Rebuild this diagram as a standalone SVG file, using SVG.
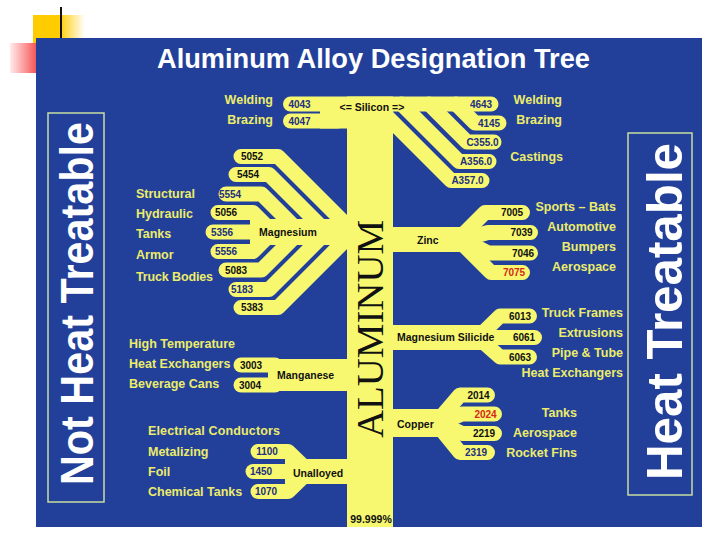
<svg xmlns="http://www.w3.org/2000/svg" width="720" height="540" viewBox="0 0 720 540">
<defs>
<linearGradient id="gy" x1="0" y1="0" x2="1" y2="0"><stop offset="0" stop-color="#ffcc00"/><stop offset="0.5" stop-color="#ffcc00"/><stop offset="1" stop-color="#ffcc00" stop-opacity="0"/></linearGradient>
<linearGradient id="gr" x1="0" y1="0" x2="1" y2="0"><stop offset="0" stop-color="#ff4040" stop-opacity="0.1"/><stop offset="1" stop-color="#f04040"/></linearGradient>
</defs>
<style>
.f{fill:none;stroke:#f8f870;stroke-width:15;stroke-linecap:round;stroke-linejoin:round}
.b{fill:#f8f870}
.l{font-family:"Liberation Sans",Arial,sans-serif;font-weight:bold;font-size:12.5px;fill:#ecec6a}
.le{font-family:"Liberation Sans",Arial,sans-serif;font-weight:bold;font-size:12.5px;fill:#ecec6a;text-anchor:end}
.n{font-family:"Liberation Sans",Arial,sans-serif;font-weight:bold;font-size:10px;fill:#111;text-anchor:middle}
.nb{fill:#22307f}
.nr{fill:#d4281a}
.g{font-family:"Liberation Sans",Arial,sans-serif;font-weight:bold;font-size:10.5px;fill:#111}
.big{font-family:"Liberation Sans",Arial,sans-serif;font-weight:bold;fill:#ffffff}
.box{fill:none;stroke:#c8dca0;stroke-width:1.5}
</style>
<rect width="720" height="540" fill="#ffffff"/>
<g id="decor">
<rect x="33" y="15" width="52" height="28" fill="url(#gy)"/>
<rect x="10" y="43" width="30" height="30" fill="url(#gr)"/>
<line x1="61" y1="7" x2="61" y2="40" stroke="#111" stroke-width="2"/>
</g>
<rect id="panel" x="36" y="38" width="666" height="489" fill="#22409a"/>
<text class="big" x="157" y="68" font-size="28" textLength="433" lengthAdjust="spacingAndGlyphs">Aluminum Alloy Designation Tree</text>
<g id="not-heat-treatable">
<rect class="box" x="48" y="113" width="56" height="389"/>
<text class="big" font-size="46" transform="translate(93,485) rotate(-90)" textLength="363" lengthAdjust="spacingAndGlyphs">Not Heat Treatable</text>
</g>
<g id="heat-treatable">
<rect class="box" x="628" y="133" width="64" height="362"/>
<text class="big" font-size="50" transform="translate(682,480) rotate(-90)" textLength="337" lengthAdjust="spacingAndGlyphs">Heat Treatable</text>
</g>
<g id="connectors">
<rect class="b" x="347" y="96.5" width="46" height="430.5"/>
<rect class="b" x="320" y="104" width="30" height="24.5"/>
<rect class="b" x="250" y="219" width="100" height="26"/>
<rect class="b" x="390" y="227" width="78" height="25"/>
<rect class="b" x="390" y="325" width="98" height="25"/>
<rect class="b" x="390" y="409" width="55" height="28"/>
<rect class="b" x="268" y="359" width="82" height="32"/>
<rect class="b" x="285" y="459" width="65" height="25"/>
</g>
<g id="trunk">
<text font-family="'Liberation Serif','Times New Roman',serif" font-size="37" fill="#111" transform="translate(383,438) rotate(-90)" textLength="218" lengthAdjust="spacingAndGlyphs">ALUMINUM</text>
<text class="g" x="371" y="523" font-size="8" text-anchor="middle">99.999%</text>
</g>
<g id="silicon">
<path class="f" d="M290.5,104 H491"/>
<path class="f" d="M290.5,121 H338"/>
<path class="f" d="M456,104 L475,123 H499"/>
<path class="f" d="M429,104 L467,142 H494"/>
<path class="f" d="M401.5,104 L459,161.5 H489"/>
<path class="f" d="M375,104.5 L451,180.5 H482"/>
<text class="g" x="372" y="111" text-anchor="middle">&lt;= Silicon =&gt;</text>
<text class="n nb" x="299.5" y="107.5">4043</text>
<text class="n nb" x="299.5" y="124.5">4047</text>
<text class="n nb" x="481" y="107.5">4643</text>
<text class="n nb" x="489" y="126.5">4145</text>
<text class="n nb" x="482.5" y="145.5">C355.0</text>
<text class="n nb" x="476" y="165">A356.0</text>
<text class="n nb" x="467.5" y="184">A357.0</text>
<text class="le" x="273" y="104">Welding</text>
<text class="le" x="273" y="124">Brazing</text>
<text class="le" x="562" y="104">Welding</text>
<text class="le" x="562" y="124">Brazing</text>
<text class="le" x="563" y="161">Castings</text>
</g>
<g id="magnesium">
<path class="f" d="M241,156.5 H278 L353.5,232"/>
<path class="f" d="M236,174.5 H269 L326.5,232"/>
<path class="f" d="M226,194 H261.5 L299.5,232"/>
<path class="f" d="M218,212.5 H253 L272.5,232"/>
<path class="f" d="M213,232 H350"/>
<path class="f" d="M218,251.5 H253 L272.5,232"/>
<path class="f" d="M226,270 H261.5 L299.5,232"/>
<path class="f" d="M236,289.5 H269 L326.5,232"/>
<path class="f" d="M241,307.5 H278 L353.5,232"/>
<text class="g" x="288" y="236" text-anchor="middle">Magnesium</text>
<text class="n" x="252" y="160">5052</text>
<text class="n" x="248" y="178">5454</text>
<text class="n nb" x="230" y="197.5">5554</text>
<text class="n" x="226" y="216">5056</text>
<text class="n nb" x="222" y="235.5">5356</text>
<text class="n nb" x="226" y="255">5556</text>
<text class="n" x="236" y="274">5083</text>
<text class="n nb" x="242" y="293">5183</text>
<text class="n" x="252" y="311">5383</text>
<text class="l" x="136" y="198">Structural</text>
<text class="l" x="136" y="217.5">Hydraulic</text>
<text class="l" x="136" y="238">Tanks</text>
<text class="l" x="136" y="259">Armor</text>
<text class="l" x="136" y="281" textLength="77">Truck Bodies</text>
</g>
<g id="zinc">
<path class="f" d="M458,239.5 L485,212.5 H522.5"/>
<path class="f" d="M462,239.5 L488,232.5 H530.5"/>
<path class="f" d="M462,239.5 L488,253 H530.5"/>
<path class="f" d="M458,239.5 L491,272.5 H522.5"/>
<text class="g" x="417" y="244">Zinc</text>
<text class="n" x="512" y="216">7005</text>
<text class="n" x="521.5" y="236">7039</text>
<text class="n" x="523" y="256.5">7046</text>
<text class="n nr" x="514" y="276">7075</text>
<text class="le" x="616" y="211">Sports – Bats</text>
<text class="le" x="616" y="231">Automotive</text>
<text class="le" x="616" y="251">Bumpers</text>
<text class="le" x="616" y="271">Aerospace</text>
</g>
<g id="magnesium-silicide">
<path class="f" d="M478,337.5 L500,316 H529.5"/>
<path class="f" d="M478,337.5 H534.5"/>
<path class="f" d="M478,337.5 L500,357 H529.5"/>
<text class="g" x="397" y="341">Magnesium Silicide</text>
<text class="n" x="520" y="319.5">6013</text>
<text class="n" x="524" y="341">6061</text>
<text class="n" x="520" y="360.5">6063</text>
<text class="le" x="623" y="317">Truck Frames</text>
<text class="le" x="623" y="337">Extrusions</text>
<text class="le" x="623" y="357">Pipe &amp; Tube</text>
<text class="le" x="623" y="377">Heat Exchangers</text>
</g>
<g id="copper">
<path class="f" d="M436,423 L460,395 H487.5"/>
<path class="f" d="M440,423 L462,414 H494.5"/>
<path class="f" d="M440,423 L462,433.5 H494.5"/>
<path class="f" d="M436,423 L460,452.5 H487.5"/>
<text class="g" x="397" y="427.5">Copper</text>
<text class="n" x="478.5" y="398.5">2014</text>
<text class="n nr" x="485.5" y="417.5">2024</text>
<text class="n" x="484" y="437">2219</text>
<text class="n nb" x="476" y="456">2319</text>
<text class="le" x="577" y="417">Tanks</text>
<text class="le" x="577" y="437">Aerospace</text>
<text class="le" x="577" y="457">Rocket Fins</text>
</g>
<g id="manganese">
<path class="f" d="M241,365 H275"/>
<path class="f" d="M241,385 H275"/>
<text class="g" x="277" y="379">Manganese</text>
<text class="n" x="251" y="368.5">3003</text>
<text class="n" x="250" y="388.5">3004</text>
<text class="l" x="129" y="348">High Temperature</text>
<text class="l" x="129" y="368">Heat Exchangers</text>
<text class="l" x="129" y="388">Beverage Cans</text>
</g>
<g id="unalloyed">
<path class="f" d="M258,451.5 H288 L303,466"/>
<path class="f" d="M253,471.5 H300"/>
<path class="f" d="M258,491.5 H288 L303,477"/>
<text class="g" x="293" y="476.5">Unalloyed</text>
<text class="n nb" x="267" y="455">1100</text>
<text class="n nb" x="261" y="475">1450</text>
<text class="n nb" x="266" y="495">1070</text>
<text class="l" x="148" y="435" textLength="132">Electrical Conductors</text>
<text class="l" x="148" y="456">Metalizing</text>
<text class="l" x="148" y="476">Foil</text>
<text class="l" x="148" y="496">Chemical Tanks</text>
</g>
</svg>
